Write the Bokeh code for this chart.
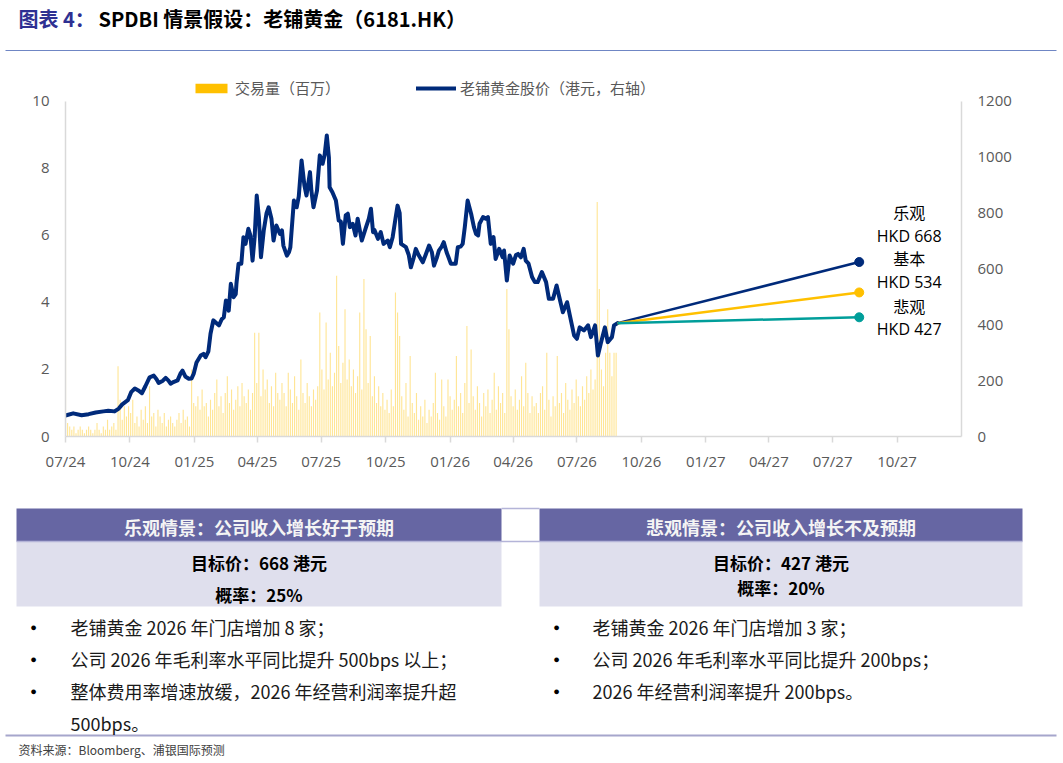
import pandas as pd
from bokeh.plotting import figure
from bokeh.layouts import column
from bokeh.models import Range1d, LinearAxis, FixedTicker, Legend, LegendItem
from bokeh.core.properties import value
from bokeh.embed import file_html
from bokeh.resources import INLINE

# ---------------- data ----------------
title_prefix = "图表 4："
title_main = "SPDBI 情景假设：老铺黄金（6181.HK）"
legend_labels = ["交易量（百万）", "老铺黄金股价（港元，右轴）"]
source_note = "资料来源：Bloomberg、浦银国际预测"

price_dates = [
    "2024-07-01", "2024-07-12", "2024-07-24", "2024-08-03", "2024-08-13", "2024-08-24", "2024-08-31",
    "2024-09-09", "2024-09-15", "2024-09-20", "2024-09-28", "2024-10-03", "2024-10-08", "2024-10-13",
    "2024-10-18", "2024-10-23", "2024-10-29", "2024-11-04", "2024-11-08", "2024-11-11", "2024-11-17",
    "2024-11-21", "2024-11-25", "2024-11-28", "2024-12-02", "2024-12-08", "2024-12-12", "2024-12-15",
    "2024-12-19", "2024-12-24", "2024-12-28", "2024-12-31", "2025-01-04", "2025-01-10", "2025-01-14",
    "2025-01-17", "2025-01-21", "2025-01-24", "2025-01-28", "2025-02-02", "2025-02-05", "2025-02-09",
    "2025-02-12", "2025-02-15", "2025-02-19", "2025-02-22", "2025-02-26", "2025-03-01", "2025-03-02",
    "2025-03-05", "2025-03-09", "2025-03-12", "2025-03-15", "2025-03-19", "2025-03-22", "2025-03-25",
    "2025-03-28", "2025-03-31", "2025-04-03", "2025-04-06", "2025-04-10", "2025-04-14", "2025-04-17",
    "2025-04-21", "2025-04-24", "2025-04-28", "2025-05-03", "2025-05-06", "2025-05-08", "2025-05-13",
    "2025-05-16", "2025-05-18", "2025-05-23", "2025-05-27", "2025-05-30", "2025-06-03", "2025-06-07",
    "2025-06-10", "2025-06-15", "2025-06-17", "2025-06-20", "2025-06-25", "2025-06-29", "2025-07-03",
    "2025-07-06", "2025-07-09", "2025-07-12", "2025-07-13", "2025-07-17", "2025-07-22", "2025-07-26",
    "2025-07-29", "2025-08-01", "2025-08-05", "2025-08-08", "2025-08-11", "2025-08-15", "2025-08-19",
    "2025-08-22", "2025-08-25", "2025-08-28", "2025-09-03", "2025-09-07", "2025-09-10", "2025-09-13",
    "2025-09-15", "2025-09-20", "2025-09-24", "2025-09-28", "2025-10-04", "2025-10-07", "2025-10-11",
    "2025-10-15", "2025-10-18", "2025-10-21", "2025-10-23", "2025-10-30", "2025-11-03", "2025-11-06",
    "2025-11-10", "2025-11-13", "2025-11-17", "2025-11-23", "2025-11-27", "2025-12-02", "2025-12-06",
    "2025-12-09", "2025-12-13", "2025-12-16", "2025-12-20", "2025-12-23", "2025-12-27", "2025-12-30",
    "2026-01-02", "2026-01-09", "2026-01-12", "2026-01-16", "2026-01-19", "2026-01-22", "2026-01-26",
    "2026-01-31", "2026-02-04", "2026-02-07", "2026-02-10", "2026-02-12", "2026-02-17", "2026-02-21",
    "2026-02-24", "2026-02-28", "2026-03-04", "2026-03-07", "2026-03-12", "2026-03-17", "2026-03-19",
    "2026-03-23", "2026-03-27", "2026-04-01", "2026-04-05", "2026-04-08", "2026-04-12", "2026-04-16",
    "2026-04-19", "2026-04-23", "2026-04-28", "2026-05-02", "2026-05-06", "2026-05-12", "2026-05-18",
    "2026-05-22", "2026-05-28", "2026-06-02", "2026-06-07", "2026-06-11", "2026-06-17", "2026-06-21",
    "2026-06-27", "2026-07-01", "2026-07-05", "2026-07-11", "2026-07-17", "2026-07-21", "2026-07-27",
    "2026-07-31", "2026-08-04", "2026-08-10", "2026-08-14", "2026-08-20", "2026-08-23", "2026-08-28",
]
price_values = [
    75, 83, 76, 80, 86, 90, 92,
    90, 100, 115, 130, 160, 172, 165,
    155, 180, 212, 218, 205, 192, 200,
    210, 200, 189, 195, 201, 225, 236,
    215, 207, 208, 225, 265, 290, 296,
    284, 305, 368, 416, 405, 398, 420,
    427, 487, 451, 547, 499, 510, 547,
    619, 619, 714, 690, 744, 720, 630,
    714, 863, 786, 642, 738, 800, 821,
    780, 702, 756, 726, 738, 684, 648,
    660, 678, 845, 821, 860, 989, 900,
    863, 947, 880, 821, 881, 1007, 977,
    1010, 1078, 1000, 893, 875, 845, 774,
    770, 690, 792, 798, 750, 762, 720,
    780, 740, 702, 750, 780, 816, 732,
    740, 708, 732, 690, 702, 678, 714,
    780, 827, 800, 690, 678, 650, 606,
    640, 672, 650, 624, 650, 684, 660,
    612, 640, 666, 680, 696, 660, 640,
    619, 619, 678, 680, 690, 750, 845,
    798, 750, 726, 720, 762, 786, 780,
    786, 690, 714, 636, 672, 642, 666,
    559, 648, 619, 650, 654, 642, 672,
    630, 619, 571, 553, 553, 589, 553,
    493, 493, 541, 487, 445, 481, 433,
    362, 350, 391, 380, 398, 356, 398,
    290, 332, 391, 338, 356, 398, 406,
]

volume_start = "2024-07-01"
volume_step_days = 3
volume_values = [
    2.4, 0.4, 0.3, 0.2, 0.3, 0.1, 0.2, 0.3, 0.2, 0.1, 0.2,
    0.3, 0.2, 0.1, 0.2, 0.4, 0.2, 0.1, 0.3, 0.2, 0.5,
    0.2, 0.3, 0.4, 0.2, 2.1, 1.1, 0.5, 0.9, 0.6, 0.9,
    0.7, 1.1, 0.4, 0.6, 0.3, 0.8, 0.5, 0.9, 0.4, 1.5,
    0.6, 0.7, 0.3, 0.8, 0.6, 0.4, 0.7, 0.3, 0.5, 0.6,
    0.4, 0.3, 0.5, 0.7, 0.4, 0.8, 0.5, 0.6, 0.3, 2.0, 1.0,
    0.9, 1.2, 0.8, 1.4, 0.9, 1.0, 0.6, 1.1, 0.8, 1.3,
    1.7, 0.9, 1.2, 0.7, 1.3, 1.8, 1.0, 1.4, 0.8,
    1.1, 1.5, 0.9, 1.6, 1.2, 1.0, 1.4, 0.8, 1.3, 3.1, 1.6,
    3.1, 1.2, 2.0, 1.4, 1.7, 1.0, 1.5, 0.9, 1.9, 1.3,
    1.1, 1.6, 1.3, 0.9, 1.9, 1.4, 1.0, 1.8, 1.2, 0.8,
    2.3, 1.3, 1.0, 1.6, 1.2, 0.9, 1.4, 1.1, 1.5, 3.7,
    2.0, 1.4, 3.4, 1.7, 2.5, 1.5, 1.9, 4.8, 2.7, 1.6, 2.2,
    3.8, 1.7, 2.3, 1.5, 2.0, 1.3, 1.8, 3.7, 1.4, 4.7,
    3.2, 1.6, 3.0, 1.2, 1.8, 1.0, 1.5, 0.9, 1.3, 0.8,
    1.1, 0.7, 1.4, 0.9, 4.3, 3.7, 3.0, 1.2, 0.8, 1.6, 0.6,
    2.4, 1.0, 0.7, 1.3, 0.5, 0.9, 0.6, 1.1, 0.4, 0.8,
    0.6, 1.0, 1.9, 0.7, 0.5, 1.7, 0.9, 0.6, 1.7, 1.2,
    0.8, 1.1, 2.4, 0.9, 1.3, 0.7, 1.6, 3.3, 1.0, 2.6,
    1.2, 0.8, 1.5, 1.0, 0.6, 1.3, 0.9, 1.4, 0.7,
    1.1, 1.9, 0.8, 1.5, 1.0, 1.3, 0.7, 4.4, 3.2, 1.2, 0.9,
    1.4, 0.8, 1.1, 1.8, 0.9, 2.2, 1.3, 0.7, 1.2, 0.9,
    1.0, 0.7, 1.3, 1.5, 0.8, 2.5, 1.1, 0.6, 1.2, 0.9,
    2.4, 1.0, 1.3, 0.7, 1.6, 1.1, 0.8, 1.4, 1.0, 1.7,
    1.2, 0.9, 1.5, 1.1, 1.8, 1.3, 2.0, 1.4, 1.7, 7.0, 4.4,
    2.0, 1.5, 2.5, 3.8, 2.5, 1.8, 2.5, 2.5,
]

scenario_names = ["乐观", "基本", "悲观"]
scenario_labels = ["HKD 668", "HKD 534", "HKD 427"]
scenario_end_date = "2027-08-08"
scenario_end_values = [625, 516, 427]

x_start, x_end = "2024-07-01", "2028-01-01"
x_tick_dates = ["2024-07-01", "2024-10-01", "2025-01-01", "2025-04-01", "2025-07-01",
                "2025-10-01", "2026-01-01", "2026-04-01", "2026-07-01", "2026-10-01",
                "2027-01-01", "2027-04-01", "2027-07-01", "2027-10-01"]
x_tick_labels = ["07/24", "10/24", "01/25", "04/25", "07/25", "10/25", "01/26",
                 "04/26", "07/26", "10/26", "01/27", "04/27", "07/27", "10/27"]
left_ticks = [0, 2, 4, 6, 8, 10]
right_ticks = [0, 200, 400, 600, 800, 1000, 1200]

opt_header = "乐观情景：公司收入增长好于预期"
opt_target = "目标价：668 港元"
opt_prob = "概率：25%"
opt_points = ["老铺黄金 2026 年门店增加 8 家；",
              "公司 2026 年毛利率水平同比提升 500bps 以上；",
              "整体费用率增速放缓，2026 年经营利润率提升超\n500bps。"]
pes_header = "悲观情景：公司收入增长不及预期"
pes_target = "目标价：427 港元"
pes_prob = "概率：20%"
pes_points = ["老铺黄金 2026 年门店增加 3 家；",
              "公司 2026 年毛利率水平同比提升 200bps；",
              "2026 年经营利润率提升 200bps。"]

# ---------------- styles ----------------
NAVY = "#002A7A"
GOLD = "#FFC000"
TEAL = "#009E9A"
AXIS_GREY = "#D9D9D9"
LABEL_GREY = "#595959"
HEAD_FILL = "#6666A3"
ROW_FILL = "#DFDFED"
RULE = "#B4B4D8"
scenario_colors = [NAVY, GOLD, TEAL]
name_dy = [-50, -34, -11]
label_dy = [-26, -10, 12]
CJK = value("Noto Sans CJK SC")
LAT = value("Open Sans")
W = 1063


def blank(height, y0, y1):
    f = figure(width=W, height=height, x_range=Range1d(0, W), y_range=Range1d(y1, y0),
               x_axis_location=None, y_axis_location=None, min_border=0, title=None,
               toolbar_location=None, output_backend="svg", outline_line_color=None,
               frame_align=False)
    f.grid.visible = False
    return f


def style_axis(ax):
    ax.axis_line_color = AXIS_GREY
    ax.axis_line_width = 1.5
    ax.minor_tick_line_color = None
    ax.major_label_text_font = "Open Sans"
    ax.major_label_text_font_size = "15px"
    ax.major_label_text_color = LABEL_GREY


# ---------------- title strip ----------------
top = blank(62, 0, 62)
top.text(x=[18], y=[18], text=[title_prefix], text_font=CJK, text_font_size="20px",
         text_font_style="bold", text_color="#2E3092", text_baseline="middle")
top.text(x=[98], y=[18], text=[title_main], text_font=CJK, text_font_size="20px",
         text_font_style="bold", text_color="#000000", text_baseline="middle")
top.segment(x0=[5], y0=[50], x1=[1056], y1=[50], line_color="#6F86C4", line_width=1)

# ---------------- chart ----------------
chart = figure(width=W, height=416, x_axis_type="datetime",
               x_range=Range1d(pd.Timestamp(x_start), pd.Timestamp(x_end)),
               y_range=Range1d(0, 10.776), title=None,
               min_border_left=65, min_border_right=102, min_border_top=13, min_border_bottom=42,
               toolbar_location=None, output_backend="svg", outline_line_color=None,
               frame_align=False)
chart.extra_y_ranges = {"price": Range1d(0, 1293.1)}
chart.grid.visible = False

tick_ms = [int(pd.Timestamp(d).value // 10**6) for d in x_tick_dates]
xa = chart.xaxis[0]
xa.ticker = FixedTicker(ticks=tick_ms)
xa.major_label_overrides = {t: lab for t, lab in zip(tick_ms, x_tick_labels)}
style_axis(xa)
xa.major_tick_line_color = AXIS_GREY
xa.major_tick_line_width = 1.5
xa.major_tick_out = 6
xa.major_tick_in = 0
xa.major_label_standoff = 8

ya = chart.yaxis[0]
ya.ticker = FixedTicker(ticks=left_ticks)
ya.bounds = (0, 10)
style_axis(ya)
ya.major_tick_line_color = None
ya.major_tick_out = 0
ya.major_tick_in = 0
ya.major_label_standoff = 16

ra = LinearAxis(y_range_name="price", ticker=FixedTicker(ticks=right_ticks), bounds=(0, 1200))
style_axis(ra)
ra.major_tick_line_color = None
ra.major_tick_out = 0
ra.major_tick_in = 0
ra.major_label_standoff = 16
chart.add_layout(ra, "right")

vol_dates = pd.date_range(volume_start, periods=len(volume_values), freq=f"{volume_step_days}D")
chart.vbar(x=vol_dates, top=volume_values, width=1.6 * 86400000, fill_color=GOLD,
           fill_alpha=0.42, line_color=None)
# zero-height proxy used only for the legend swatch
legend_bar = chart.vbar(x=[vol_dates[0]], top=[0], width=86400000, fill_color=GOLD,
                        line_color=None)

price_r = chart.line(x=pd.to_datetime(price_dates), y=price_values, y_range_name="price",
                     line_color=NAVY, line_width=4, line_join="round", line_cap="round")

start_date = pd.Timestamp(price_dates[-1])
start_val = price_values[-1]
end_date = pd.Timestamp(scenario_end_date)
for val, col in zip(scenario_end_values, scenario_colors):
    chart.line(x=[start_date, end_date], y=[start_val, val], y_range_name="price",
               line_color=col, line_width=2.5)
    chart.scatter(x=[end_date], y=[val], y_range_name="price", size=9,
                  fill_color=col, line_color=col)

chart.text(x=[end_date] * 3, y=scenario_end_values, text=scenario_names, y_range_name="price",
           x_offset=50, y_offset=name_dy, text_align="center", text_baseline="middle",
           text_font=CJK, text_font_size="16px", text_color="#000000")
chart.text(x=[end_date] * 3, y=scenario_end_values, text=scenario_labels, y_range_name="price",
           x_offset=50, y_offset=label_dy, text_align="center", text_baseline="middle",
           text_font=LAT, text_font_size="16px", text_color="#000000")

legend = Legend(items=[LegendItem(label=legend_labels[0], renderers=[legend_bar]),
                       LegendItem(label=legend_labels[1], renderers=[price_r])],
                orientation="horizontal", location=(126, 338), glyph_width=40, glyph_height=12,
                label_standoff=4, spacing=76, padding=0, margin=0,
                border_line_color=None, background_fill_alpha=0,
                label_text_font="Noto Sans CJK SC", label_text_font_size="15px",
                label_text_color=LABEL_GREY)
chart.add_layout(legend)

# ---------------- scenario tables ----------------
bot = blank(285, 478, 763)
centers = [258.5, 780.5]
lefts = [16, 539]
rights = [501, 1022]
bot.quad(left=lefts, right=rights, top=[508, 508], bottom=[541, 541],
         fill_color=HEAD_FILL, line_color=None)
bot.quad(left=lefts, right=rights, top=[541, 541], bottom=[606, 606],
         fill_color=ROW_FILL, line_color=None)
bot.segment(x0=[501, 16], y0=[508, 541], x1=[539, 1022], y1=[508, 541],
            line_color=RULE, line_width=1.5)
bot.segment(x0=[5], y0=[735], x1=[1056], y1=[735], line_color="#A6A6CC", line_width=2)

bot.text(x=centers, y=[526, 526], text=[opt_header, pes_header], text_font=CJK,
         text_font_size="18px", text_font_style="bold", text_color="#F4F4F4",
         text_align="center", text_baseline="middle")
bot.text(x=centers, y=[562, 562], text=[opt_target, pes_target], text_font=CJK,
         text_font_size="17px", text_font_style="bold", text_color="#000000",
         text_align="center", text_baseline="middle")
bot.text(x=centers, y=[594, 587], text=[opt_prob, pes_prob], text_font=CJK,
         text_font_size="17px", text_font_style="bold", text_color="#000000",
         text_align="center", text_baseline="middle")

for points, bx, tx in [(opt_points, 33, 70), (pes_points, 556, 592)]:
    row = 0
    bxs, bys, txs, tys, tts = [], [], [], [], []
    for pt in points:
        bxs.append(bx)
        bys.append(626 + 32 * row)
        for line in pt.split("\n"):
            txs.append(tx)
            tys.append(626 + 32 * row)
            tts.append(line)
            row += 1
    bot.text(x=bxs, y=bys, text=["●"] * len(bxs), text_font=LAT, text_font_size="11px",
             text_color="#000000", text_align="center", text_baseline="middle")
    bot.text(x=txs, y=tys, text=tts, text_font=CJK, text_font_size="18px",
             text_color="#1A1A1A", text_align="left", text_baseline="middle")

bot.text(x=[18], y=[749], text=[source_note], text_font=CJK, text_font_size="12px",
         text_color="#404040", text_baseline="middle")

layout = column(top, chart, bot, spacing=0)
open("out.html", "w").write(file_html(layout, INLINE))
